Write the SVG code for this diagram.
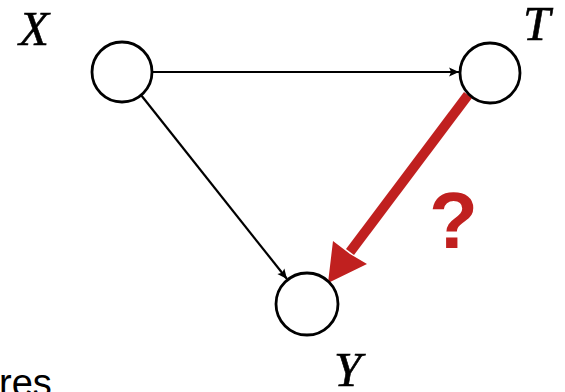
<svg xmlns="http://www.w3.org/2000/svg" width="565" height="392" viewBox="0 0 565 392">
<defs>
<style>
.node{fill:#ffffff;stroke:#000000;stroke-width:2.8}
.lbl{font-family:"Liberation Serif","Times New Roman",serif;font-style:italic;font-size:49px;fill:#000;stroke:#000;stroke-width:0.6}
.edge{stroke:#000;stroke-width:2.2;fill:none}
</style>
<marker id="ah" viewBox="0 0 10 10" refX="10" refY="5" markerWidth="5" markerHeight="4.5" orient="auto" markerUnits="strokeWidth">
<path d="M0,0.5 L10,5 L0,9.5 L2,5 Z" fill="#000"/>
</marker>
</defs>
<rect x="0" y="0" width="565" height="392" fill="#ffffff"/>
<g id="connectors">
<line class="edge" x1="152" y1="72" x2="459" y2="72" marker-end="url(#ah)"/>
<line class="edge" x1="141" y1="95" x2="287" y2="279" marker-end="url(#ah)"/>
<line x1="468" y1="95" x2="350" y2="252" stroke="#c0201f" stroke-width="10"/>
<polygon points="328,283 333,241 350,254 367,264" fill="#c0201f"/>
</g>
<g id="node-X">
<circle class="node" cx="122" cy="72" r="30"/>
<text class="lbl" x="19" y="45">X</text>
</g>
<g id="node-T">
<circle class="node" cx="490" cy="73" r="30"/>
<text class="lbl" x="523" y="40">T</text>
</g>
<g id="node-Y">
<circle class="node" cx="307" cy="304" r="31"/>
<text class="lbl" x="334" y="386">Y</text>
</g>
<text x="429" y="248" font-family="Liberation Sans, Arial, sans-serif" font-weight="bold" font-size="80" fill="#c0201f">?</text>
<text x="-1" y="396" font-family="Liberation Sans, Arial, sans-serif" font-size="38" fill="#000">res</text>
</svg>
